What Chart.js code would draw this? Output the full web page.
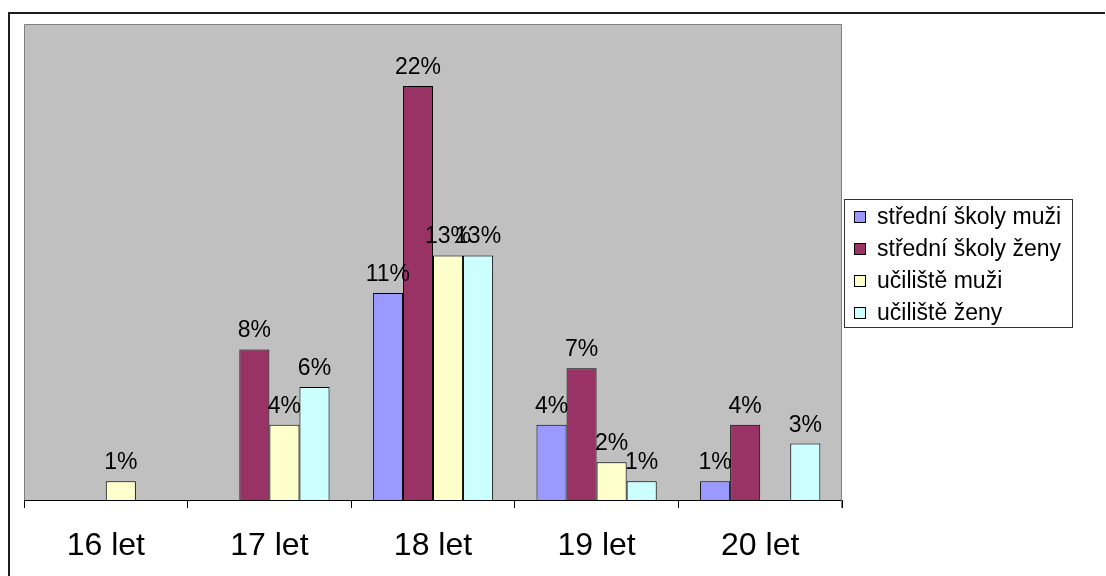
<!DOCTYPE html>
<html>
<head>
<meta charset="utf-8">
<script src="https://cdn.jsdelivr.net/npm/chart.js@4.4.1/dist/chart.umd.min.js"></script>
<style>
  html, body { margin: 0; padding: 0; background: #ffffff; }
  #wrap { position: relative; width: 1106px; height: 576px; overflow: hidden; }
  canvas { display: block; }
</style>
</head>
<body>
<div id="wrap"><canvas id="c" width="1106" height="576"></canvas></div>
<script>
// Age groups on the x axis
const categories = ['16 let', '17 let', '18 let', '19 let', '20 let'];
// Series names
const seriesNames = ['střední školy muži', 'střední školy ženy', 'učiliště muži', 'učiliště ženy'];
// Shares in percent per age group
const stredniMuzi = [0, 0, 11, 4, 1];
const stredniZeny = [0, 8, 22, 7, 4];
const ucilisteMuzi = [1, 4, 13, 2, 0];
const ucilisteZeny = [0, 6, 13, 1, 3];
const seriesColors = ['#9999FF', '#993366', '#FFFFCC', '#CCFFFF'];

const FONT = '"Liberation Sans", Arial, sans-serif';

// Outer frame of the whole figure (only top and left edges are visible)
const framePlugin = {
  id: 'frame',
  beforeDraw(chart) {
    const ctx = chart.ctx;
    ctx.save();
    ctx.fillStyle = '#ffffff';
    ctx.fillRect(0, 0, chart.width, chart.height);
    ctx.strokeStyle = '#1e1e1e';
    ctx.lineWidth = 2;
    ctx.beginPath();
    ctx.moveTo(1105, 13);
    ctx.lineTo(9, 13);
    ctx.lineTo(9, 576);
    ctx.stroke();
    ctx.restore();
  }
};

// Gray plot area with a thin gray outline
const plotAreaPlugin = {
  id: 'plotArea',
  beforeDatasetsDraw(chart) {
    const { ctx, chartArea: a } = chart;
    ctx.save();
    ctx.fillStyle = '#C0C0C0';
    ctx.fillRect(a.left, a.top, a.right - a.left, a.bottom - a.top);
    ctx.strokeStyle = '#808080';
    ctx.lineWidth = 1;
    ctx.beginPath();
    ctx.moveTo(a.left + 0.5, a.bottom);
    ctx.lineTo(a.left + 0.5, a.top + 0.5);
    ctx.lineTo(a.right - 0.5, a.top + 0.5);
    ctx.lineTo(a.right - 0.5, a.bottom + 8);
    ctx.stroke();
    ctx.restore();
  }
};

// Percentage labels above the bars
const valueLabelPlugin = {
  id: 'valueLabels',
  afterDatasetsDraw(chart) {
    const ctx = chart.ctx;
    ctx.save();
    ctx.font = '23px ' + FONT;
    ctx.fillStyle = '#000000';
    ctx.textAlign = 'center';
    ctx.textBaseline = 'alphabetic';
    chart.data.datasets.forEach((ds, i) => {
      const meta = chart.getDatasetMeta(i);
      meta.data.forEach((bar, j) => {
        const v = ds.data[j];
        if (!v) return;
        ctx.fillText(v + '%', bar.x, bar.y - 12);
      });
    });
    ctx.restore();
  }
};

// Boxed legend on the right
const legendBoxPlugin = {
  id: 'legendBox',
  afterDraw(chart) {
    const ctx = chart.ctx;
    const x0 = 844, y0 = 199, w = 229, h = 129;
    ctx.save();
    ctx.fillStyle = '#ffffff';
    ctx.fillRect(x0, y0, w, h);
    ctx.strokeStyle = '#333333';
    ctx.lineWidth = 1;
    ctx.strokeRect(x0 + 0.5, y0 + 0.5, w - 1, h - 1);
    ctx.font = '23px ' + FONT;
    ctx.textBaseline = 'middle';
    ctx.textAlign = 'left';
    chart.data.datasets.forEach((ds, i) => {
      const cy = y0 + 18 + i * 32;
      ctx.fillStyle = ds.backgroundColor;
      ctx.fillRect(854, cy - 6, 12, 12);
      ctx.strokeStyle = '#000000';
      ctx.strokeRect(854.5, cy - 5.5, 11, 11);
      ctx.fillStyle = '#000000';
      ctx.fillText(ds.label, 877, cy + 1);
    });
    ctx.restore();
  }
};

const seriesData = [stredniMuzi, stredniZeny, ucilisteMuzi, ucilisteZeny];

new Chart(document.getElementById('c'), {
  type: 'bar',
  data: {
    labels: categories,
    datasets: seriesNames.map((name, i) => ({
      label: name,
      data: seriesData[i],
      backgroundColor: seriesColors[i],
      borderColor: '#000000',
      borderWidth: 1,
      borderSkipped: 'bottom',
      categoryPercentage: 0.735,
      barPercentage: 1.0
    }))
  },
  options: {
    responsive: false,
    animation: false,
    devicePixelRatio: 1,
    layout: { padding: { left: 24, top: 24, right: 264, bottom: -8 } },
    plugins: {
      legend: { display: false },
      tooltip: { enabled: false }
    },
    scales: {
      y: {
        display: false,
        min: 0,
        max: 25.3
      },
      x: {
        grid: {
          display: true,
          offset: true,
          drawOnChartArea: false,
          drawTicks: true,
          tickLength: 8,
          color: '#000000',
          lineWidth: 1
        },
        border: { display: true, color: '#000000', width: 1 },
        ticks: {
          color: '#000000',
          padding: 18.8,
          font: { family: FONT, size: 32 }
        }
      }
    }
  },
  plugins: [framePlugin, plotAreaPlugin, valueLabelPlugin, legendBoxPlugin]
});
</script>
</body>
</html>
